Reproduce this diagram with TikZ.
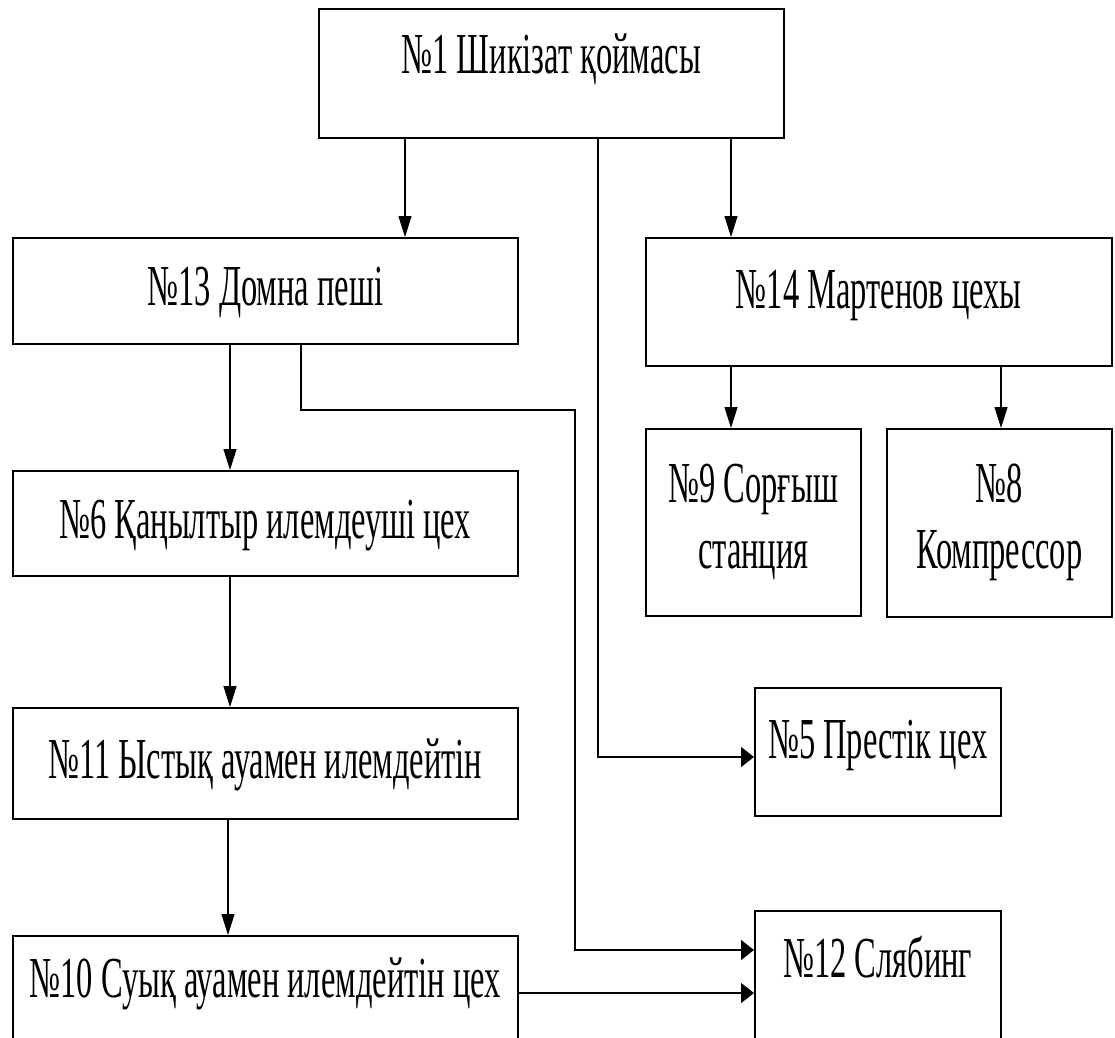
\documentclass[tikz,border=0pt]{standalone}
\usepackage{fontspec}
\setmainfont[FakeStretch=0.56]{Liberation Serif}
\usetikzlibrary{arrows.meta}
\tikzset{
  box/.style={draw, line width=1.5pt, anchor=north west, inner sep=0pt,
    align=center, text height=40pt, font=\fontsize{58}{66}\selectfont},
  varr/.style={line width=1.2pt, -{Triangle[length=21pt,width=13pt]}},
  harr/.style={line width=1.2pt, -{Triangle[length=13pt,width=20pt]}}
}
\begin{document}
\begin{tikzpicture}[x=1pt,y=-1pt]
\clip (0,0) rectangle (1115,1037);

\node[box, minimum width=465pt, minimum height=129pt, text depth=39pt] (n1) at (318,8) {№1 Шикізат қоймасы};
\node[box, minimum width=505pt, minimum height=106pt, text depth=10pt] (n13) at (12,237) {№13 Домна пеші};
\node[box, minimum width=466pt, minimum height=128pt, text depth=26pt] (n14) at (645,237) {№14 Мартенов цехы};
\node[box, minimum width=215pt, minimum height=187pt, text height=, text depth=] (n9) at (645,428) {№9 Сорғыш\\станция};
\node[box, minimum width=225pt, minimum height=188pt, text height=, text depth=] (n8) at (886,428) {№8\\Компрессор};
\node[box, minimum width=505pt, minimum height=105pt, text depth=9pt] (n6) at (12,470) {№6 Қаңылтыр илемдеуші цех};
\node[box, minimum width=246pt, minimum height=128pt, text depth=26pt] (n5) at (754,687) {№5 Престік цех};
\node[box, minimum width=505pt, minimum height=111pt, text depth=9pt] (n11) at (12,707) {№11 Ыстық ауамен илемдейтін};
\node[box, minimum width=505pt, minimum height=200pt, text depth=116pt] (n10) at (12,935) {№10 Суық ауамен илемдейтін цех};
\node[box, minimum width=246pt, minimum height=200pt, text depth=106pt] (n12) at (754,910) {№12 Слябинг};

\draw[varr] (n1.south -| 405,0) -- (n13.north -| 405,0);
\draw[varr] (n1.south -| 731,0) -- (n14.north -| 731,0);
\draw[harr] (n1.south -| 598,0) |- (n5.west |- 0,757);
\draw[varr] (n14.south -| 731,0) -- (n9.north -| 731,0);
\draw[varr] (n14.south -| 1001,0) -- (n8.north -| 1001,0);
\draw[varr] (n13.south -| 230,0) -- (n6.north -| 230,0);
\draw[harr] (n13.south -| 301,0) -- (301,410) -- (575,410) |- (n12.west |- 0,950);
\draw[varr] (n6.south -| 230,0) -- (n11.north -| 230,0);
\draw[varr] (n11.south -| 228,0) -- (n10.north -| 228,0);
\draw[harr] (n10.east |- 0,993) -- (n12.west |- 0,993);

\end{tikzpicture}
\end{document}
